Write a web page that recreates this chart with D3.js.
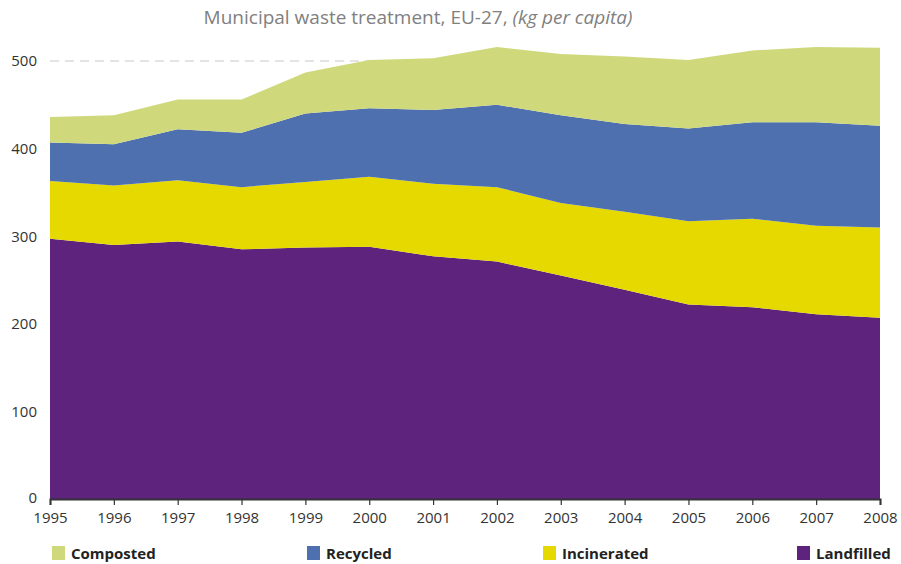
<!DOCTYPE html>
<html>
<head>
<meta charset="utf-8">
<script src="https://cdn.jsdelivr.net/npm/d3@7"></script>
<style>
  body { margin: 0; background: #fff; }
  svg text { font-family: "Open Sans", "Noto Sans", sans-serif; }
</style>
</head>
<body>
<div id="chart"></div>
<script>
// data (kg per capita)
const years = [1995, 1996, 1997, 1998, 1999, 2000, 2001, 2002, 2003, 2004, 2005, 2006, 2007, 2008];
const landfilled = [297, 290, 294, 285, 287, 288, 277, 271, 255, 239, 222, 219, 211, 207];
const incinerated = [66, 68, 70, 71, 75, 80, 83, 85, 83, 89, 95, 101, 101, 103];
const recycled = [44, 47, 58, 62, 78, 78, 84, 94, 100, 100, 106, 110, 118, 116];
const composted = [29, 33, 34, 38, 47, 55, 59, 66, 70, 77, 78, 82, 86, 89];
const yTicks = [0, 100, 200, 300, 400, 500];

const seriesNames = ["Landfilled", "Incinerated", "Recycled", "Composted"];
const colors = {
  Landfilled: "#5e237d",
  Incinerated: "#e6d900",
  Recycled: "#4e70ae",
  Composted: "#cfd97c"
};
const legendOrder = ["Composted", "Recycled", "Incinerated", "Landfilled"];

const width = 901, height = 564;
const margin = {top: 61, right: 21, bottom: 65, left: 50};

const rows = years.map((y, i) => ({
  year: y,
  Landfilled: landfilled[i],
  Incinerated: incinerated[i],
  Recycled: recycled[i],
  Composted: composted[i]
}));

const svg = d3.select("#chart").append("svg")
  .attr("width", width)
  .attr("height", height);

const x = d3.scaleLinear()
  .domain([1995, 2008])
  .range([margin.left, width - margin.right]);
const y = d3.scaleLinear()
  .domain([0, 500])
  .range([height - margin.bottom, margin.top]);

// title
const title = svg.append("text")
  .attr("x", 418)
  .attr("y", 24)
  .attr("text-anchor", "middle")
  .style("font-size", "19px")
  .style("fill", "#808080");
title.append("tspan").text("Municipal waste treatment, EU-27, ");
title.append("tspan").style("font-style", "italic").text("(kg per capita)");

// dashed grid at 500
svg.append("line")
  .attr("x1", x(1995)).attr("x2", x(2008))
  .attr("y1", y(500)).attr("y2", y(500))
  .attr("stroke", "#c8c8c8")
  .attr("stroke-width", 1)
  .attr("stroke-dasharray", "9,6");

const stack = d3.stack().keys(seriesNames);
const layers = stack(rows);

const area = d3.area()
  .x(d => x(d.data.year))
  .y0(d => y(d[0]))
  .y1(d => y(d[1]));

svg.append("g")
  .selectAll("path")
  .data(layers)
  .enter()
  .append("path")
  .attr("d", area)
  .attr("fill", d => colors[d.key]);

// y axis labels (no line)
const yAxis = svg.append("g")
  .attr("transform", "translate(" + margin.left + ",0)")
  .call(d3.axisLeft(y).tickValues(yTicks).tickSize(0).tickPadding(13));
yAxis.select(".domain").remove();
yAxis.selectAll("text")
  .style("font-size", "15px")
  .style("fill", "#333");
yAxis.selectAll(".tick").filter(d => d === 0).select("text").attr("dy", "0.2em");

// x axis
const xAxis = svg.append("g")
  .attr("transform", "translate(0," + y(0) + ")")
  .call(d3.axisBottom(x).tickValues(years).tickFormat(d3.format("d")).tickSize(6).tickSizeOuter(6).tickPadding(7));
xAxis.select(".domain")
  .attr("stroke", "#333")
  .attr("stroke-width", 2);
xAxis.selectAll(".tick line")
  .attr("stroke", "#333")
  .attr("stroke-width", 1.2);
xAxis.selectAll("text")
  .style("font-size", "15px")
  .style("fill", "#333");

// legend
const legendX = [52, 307, 543, 797];
const legend = svg.append("g")
  .selectAll("g")
  .data(legendOrder)
  .enter()
  .append("g")
  .attr("transform", (d, i) => "translate(" + legendX[i] + ",546)");
legend.append("rect")
  .attr("width", 13)
  .attr("height", 14)
  .attr("fill", d => colors[d]);
legend.append("text")
  .attr("x", 19)
  .attr("y", 12.5)
  .style("font-size", "15px")
  .style("font-weight", "bold")
  .style("fill", "#222")
  .text(d => d);
</script>
</body>
</html>
